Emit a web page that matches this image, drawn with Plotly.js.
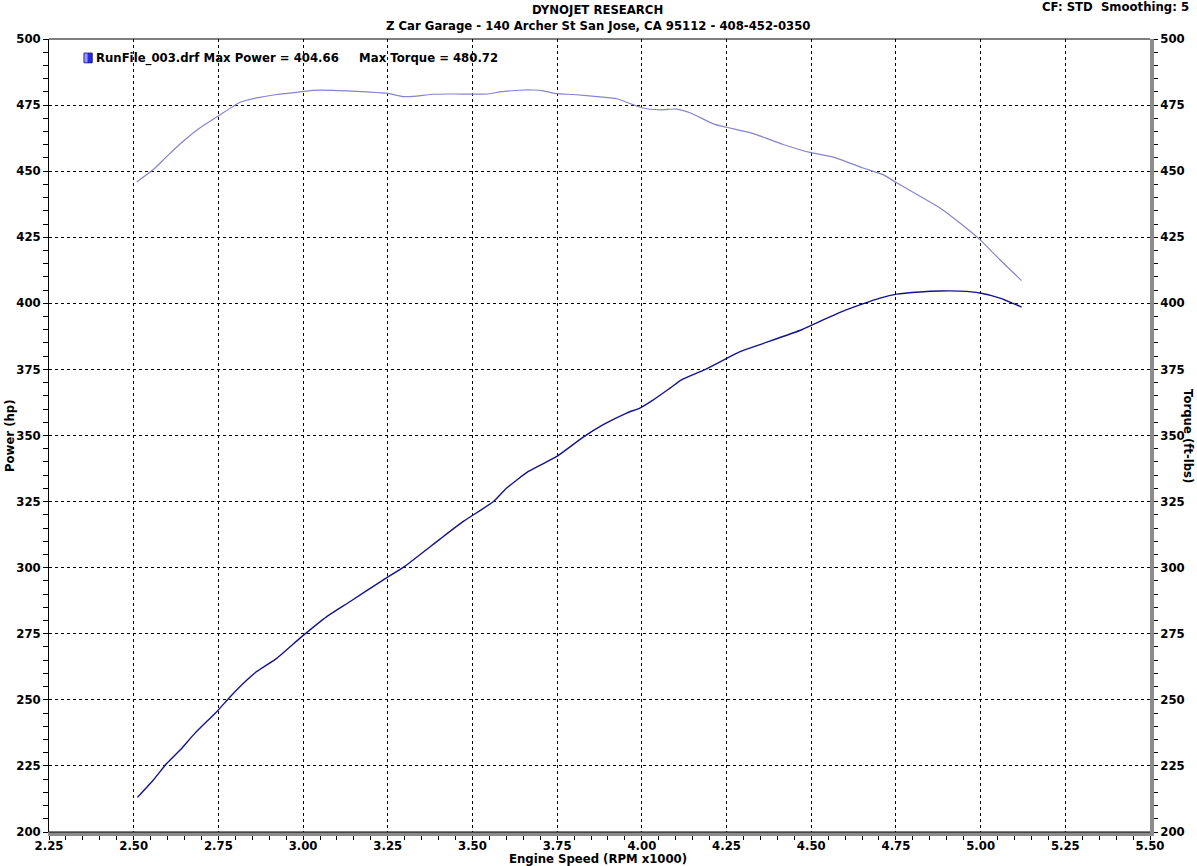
<!DOCTYPE html>
<html>
<head>
<meta charset="utf-8">
<script src="https://cdn.plot.ly/plotly-3.0.1.min.js"></script>
<style>
  html, body { margin: 0; padding: 0; background: #ffffff; }
  #chart { width: 1197px; height: 866px; }
</style>
</head>
<body>
<div id="chart"></div>
<script>
// Engine speed (RPM x1000) and torque (ft-lbs) for the torque curve
const rpmTorque = [2.509, 2.558, 2.598, 2.646, 2.696, 2.745, 2.814, 2.863, 2.922, 2.991,
  3.030, 3.089, 3.129, 3.188, 3.247, 3.296, 3.326, 3.385, 3.444, 3.547, 3.581, 3.650, 3.680,
  3.709, 3.749, 3.798, 3.876, 3.926, 4.000, 4.054, 4.103, 4.142, 4.211, 4.250, 4.329, 4.417,
  4.496, 4.565, 4.653, 4.712, 4.752, 4.821, 4.880, 4.939, 4.998, 5.057, 5.121];
const torque = [445.9, 450.6, 455.6, 461.3, 466.4, 470.5, 476.1, 477.7, 479.0, 480.0,
  480.6, 480.6, 480.4, 480.0, 479.5, 478.2, 478.3, 479.1, 479.2, 479.2, 480.0, 480.7, 480.7,
  480.4, 479.3, 479.0, 478.1, 477.4, 474.0, 473.2, 473.5, 472.1, 467.9, 466.6, 464.2, 460.1,
  457.1, 455.3, 451.2, 448.7, 445.6, 440.5, 436.1, 430.4, 424.1, 416.5, 408.6];

// Engine speed (RPM x1000) and power (hp) for the power curve
const rpmPower = [2.511, 2.558, 2.598, 2.637, 2.681, 2.745, 2.785, 2.824, 2.863, 2.922,
  2.996, 3.070, 3.139, 3.237, 3.300, 3.404, 3.473, 3.562, 3.601, 3.665, 3.749, 3.827, 3.886,
  3.955, 3.994, 4.034, 4.083, 4.118, 4.186, 4.290, 4.349, 4.472, 4.526, 4.585, 4.654, 4.703,
  4.752, 4.821, 4.880, 4.939, 4.998, 5.057, 5.121];
const power = [213.1, 219.7, 226.0, 231.0, 237.4, 245.5, 251.2, 256.3, 260.7, 265.7,
  273.9, 281.5, 287.2, 295.4, 300.5, 310.8, 317.5, 325.0, 330.1, 336.4, 342.1, 349.4, 354.1,
  358.5, 360.4, 363.5, 367.9, 371.1, 374.9, 381.7, 384.4, 390.0, 393.2, 396.6, 399.9, 402.0,
  403.5, 404.3, 404.66, 404.6, 403.9, 402.0, 398.6];

const xTickVals = [2.25, 2.50, 2.75, 3.00, 3.25, 3.50, 3.75, 4.00, 4.25, 4.50, 4.75, 5.00, 5.25, 5.50];
const yTickVals = [200, 225, 250, 275, 300, 325, 350, 375, 400, 425, 450, 475, 500];

const titleMain = 'DYNOJET RESEARCH';
const titleSub = 'Z Car Garage - 140 Archer St San Jose, CA 95112 - 408-452-0350';
const cornerText = 'CF: STD&nbsp;&nbsp;Smoothing: 5';
const legendText = 'RunFile_003.drf Max Power = 404.66&nbsp;&nbsp;&nbsp;&nbsp;&nbsp;Max Torque = 480.72';
const xTitle = 'Engine Speed (RPM x1000)';
const yTitle = 'Power (hp)';
const y2Title = 'Torque (ft-lbs)';

const FONT = { family: 'DejaVu Sans, Verdana, sans-serif', size: 11.7, color: '#000000', weight: 'bold' };

const traces = [
  {
    x: rpmTorque, y: torque, type: 'scatter', mode: 'lines', yaxis: 'y2',
    line: { color: '#8585cc', width: 1.2, shape: 'spline', smoothing: 0.5 },
    showlegend: false, hoverinfo: 'skip'
  },
  {
    x: rpmPower, y: power, type: 'scatter', mode: 'lines', yaxis: 'y',
    line: { color: '#14148a', width: 1.4, shape: 'spline', smoothing: 0.5 },
    showlegend: false, hoverinfo: 'skip'
  }
];

const commonGrid = { gridcolor: '#000000', gridwidth: 1, griddash: '3px,3px' };

const layout = {
  width: 1197, height: 866,
  margin: { l: 49, r: 47, t: 39, b: 34 },
  paper_bgcolor: '#ffffff', plot_bgcolor: '#ffffff',
  font: FONT,
  hovermode: false,
  showlegend: false,
  xaxis: Object.assign({
    range: [2.25, 5.5], tickvals: xTickVals,
    ticktext: xTickVals.map(v => v.toFixed(2)),
    showgrid: true, zeroline: false,
    showline: true, linecolor: '#8c8c8c', linewidth: 4,
    ticks: 'outside', ticklen: 4, tickcolor: '#000000', tickwidth: 1,
    ticklabelstandoff: -4,
    minor: { dtick: 0.05, ticks: 'outside', ticklen: 4, tickcolor: '#000000', showgrid: false },
    tickfont: FONT
  }, commonGrid),
  yaxis: Object.assign({
    range: [200, 500], tickvals: yTickVals,
    showgrid: true, zeroline: false,
    showline: true, linecolor: '#000000', linewidth: 1,
    ticks: 'outside', ticklen: 5, tickcolor: '#000000', tickwidth: 1,
    minor: { dtick: 5, ticks: 'outside', ticklen: 5, tickcolor: '#000000', showgrid: false },
    tickfont: FONT
  }, commonGrid),
  yaxis2: {
    range: [200, 500], tickvals: yTickVals,
    overlaying: 'y', side: 'right',
    showgrid: false, zeroline: false,
    showline: true, linecolor: '#8c8c8c', linewidth: 4,
    ticks: 'outside', ticklen: 4, tickcolor: '#000000', tickwidth: 1,
    minor: { dtick: 5, ticks: 'outside', ticklen: 4, tickcolor: '#000000', showgrid: false },
    tickfont: FONT
  },
  shapes: [
    { type: 'line', xref: 'paper', yref: 'paper', x0: 0, x1: 1, y0: 1, y1: 1,
      line: { color: '#000000', width: 1.2 }, layer: 'above' },
    { type: 'line', xref: 'paper', yref: 'paper', x0: 0, x1: 1, y0: 0, y1: 0,
      line: { color: '#000000', width: 1.2 }, layer: 'above' },
    { type: 'rect', xref: 'paper', yref: 'paper', x0: 0.0318, x1: 0.0392, y0: 0.9700, y1: 0.9822,
      fillcolor: '#2a2ae6', line: { color: '#10108a', width: 1 }, layer: 'above' },
    { type: 'rect', xref: 'paper', yref: 'paper', x0: 0.0322, x1: 0.0350, y0: 0.9705, y1: 0.9817,
      fillcolor: '#9a9aff', line: { width: 0 }, layer: 'above' }
  ],
  annotations: [
    { text: titleMain, xref: 'paper', yref: 'paper', x: 0.4986, y: 1.0366,
      xanchor: 'center', yanchor: 'middle', showarrow: false, font: FONT },
    { text: titleSub, xref: 'paper', yref: 'paper', x: 0.4986, y: 1.0164,
      xanchor: 'center', yanchor: 'middle', showarrow: false, font: FONT },
    { text: cornerText, xref: 'paper', yref: 'paper', x: 1.0372, y: 1.0404,
      xanchor: 'right', yanchor: 'middle', showarrow: false, font: FONT },
    { text: legendText, xref: 'paper', yref: 'paper', x: 0.0405, y: 0.9760,
      xanchor: 'left', yanchor: 'middle', showarrow: false, font: FONT },
    { text: yTitle, xref: 'paper', yref: 'paper', x: -0.0354, y: 0.4994, textangle: -90,
      xanchor: 'center', yanchor: 'middle', showarrow: false, font: FONT },
    { text: y2Title, xref: 'paper', yref: 'paper', x: 1.0345, y: 0.4994, textangle: 90,
      xanchor: 'center', yanchor: 'middle', showarrow: false, font: FONT },
    { text: xTitle, xref: 'paper', yref: 'paper', x: 0.4986, y: -0.0345,
      xanchor: 'center', yanchor: 'middle', showarrow: false, font: FONT }
  ]
};

Plotly.newPlot('chart', traces, layout, { staticPlot: true, displayModeBar: false });
</script>
</body>
</html>
